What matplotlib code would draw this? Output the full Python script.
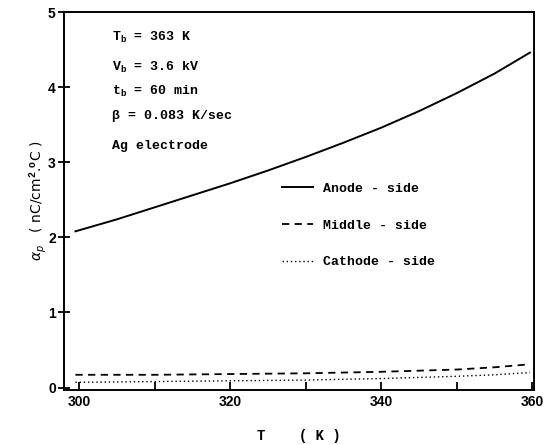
import numpy as np
import matplotlib
matplotlib.use('Agg')
import matplotlib.pyplot as plt

# values
temp = [299.5, 305, 310, 315, 320, 325, 330, 335, 340, 345, 350, 355, 359.7]
anode = [2.08, 2.24, 2.40, 2.56, 2.72, 2.89, 3.07, 3.26, 3.46, 3.68, 3.92, 4.18, 4.46]
middle = [0.17, 0.17, 0.17, 0.175, 0.18, 0.185, 0.19, 0.20, 0.21, 0.225, 0.24, 0.27, 0.31]
cathode = [0.07, 0.075, 0.08, 0.085, 0.09, 0.095, 0.10, 0.11, 0.12, 0.135, 0.15, 0.17, 0.20]

series_labels = ['Anode - side', 'Middle - side', 'Cathode - side']
notes = ['T$_\\mathrm{b}$ = 363 K', 'V$_\\mathrm{b}$ = 3.6 kV', 't$_\\mathrm{b}$ = 60 min',
         '\u03b2 = 0.083 K/sec', 'Ag electrode']
note_y = [4.66, 4.26, 3.94, 3.62, 3.22]

plt.rcParams['mathtext.fontset'] = 'custom'
plt.rcParams['mathtext.rm'] = 'Liberation Mono:bold'
plt.rcParams['mathtext.it'] = 'DejaVu Sans:italic'

mono = dict(family='Liberation Mono', weight='bold')

fig = plt.figure(figsize=(5.48, 4.45), dpi=100)
ax = fig.add_axes([0.117, 0.124, 0.857, 0.849])

ax.plot(temp, anode, color='black', lw=1.4, ls='-', label=series_labels[0])
ax.plot(temp, middle, color='black', lw=1.3, ls=(0, (4, 3)), label=series_labels[1])
ax.plot(temp, cathode, color='black', lw=1.0, ls=(0, (1, 2)), label=series_labels[2])

ax.set_xlim(298, 360.2)
ax.set_ylim(-0.03, 5.0)

ax.set_xticks([300, 320, 340, 360])
ax.set_xticks([310, 330, 350], minor=True)
ax.set_yticks([0, 1, 2, 3, 4, 5])
ax.tick_params(axis='x', which='both', direction='in', length=6, width=1.3, pad=4)
ax.tick_params(axis='y', direction='inout', length=8, width=1.3, pad=2)
for lab in ax.get_xticklabels() + ax.get_yticklabels():
    lab.set_fontfamily('Liberation Sans')
    lab.set_fontsize(10)
    lab.set_fontweight('bold')

for sp in ax.spines.values():
    sp.set_linewidth(1.4)

for txt, yv in zip(notes, note_y):
    ax.text(304.3, yv, txt, fontsize=9.5, va='center', ha='left', **mono)

ax.legend(loc='upper left', bbox_to_anchor=(0.465, 0.548), frameon=False,
          prop=dict(family='Liberation Mono', weight='bold', size=9.5),
          handlelength=2.3, handletextpad=0.8, labelspacing=1.85,
          borderpad=0, borderaxespad=0)

ax.set_xlabel('T    ( K )', fontsize=10, labelpad=14, **mono)
ax.set_ylabel('$\\mathit{\\alpha}_\\mathit{p}$   ( nC/cm$^\\mathrm{2}$.$^\\mathrm{o}$C )',
              fontsize=10, labelpad=0, family='DejaVu Sans')

fig.savefig('out.png', dpi=100)
